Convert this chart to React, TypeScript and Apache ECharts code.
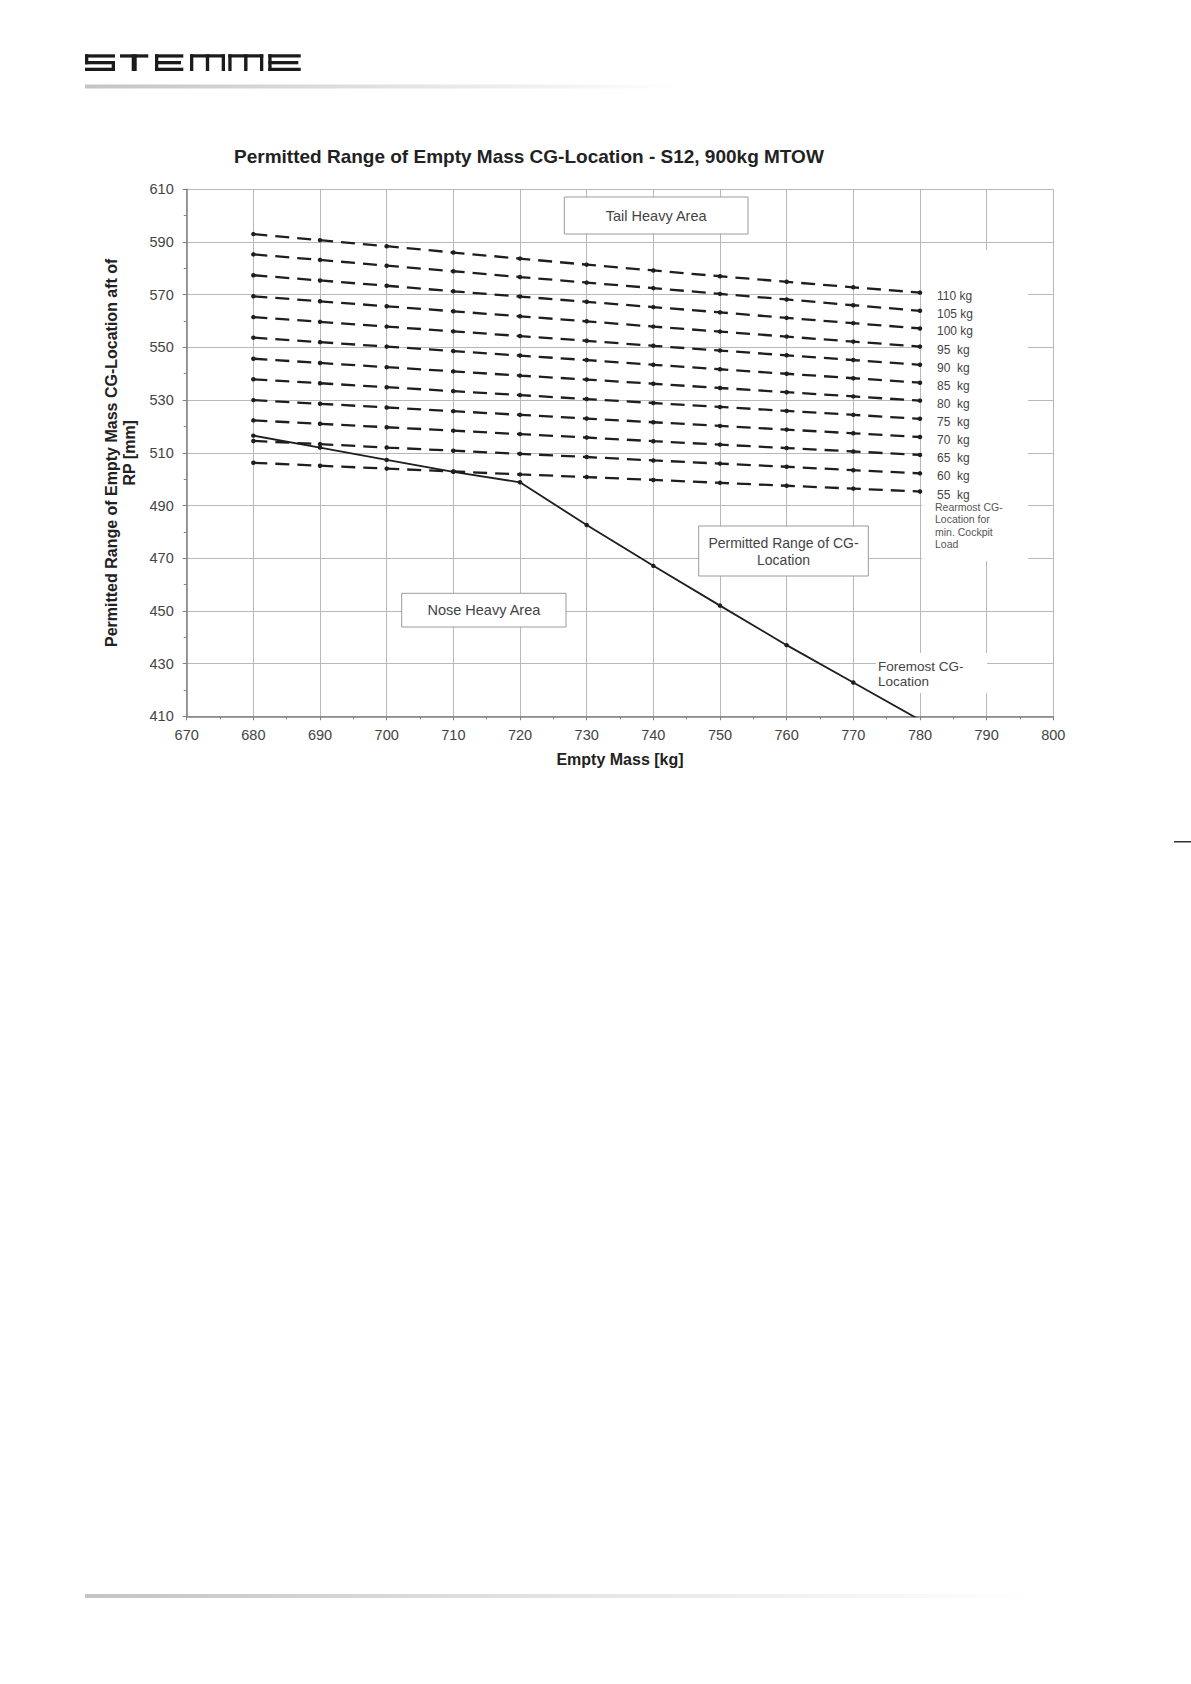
import React, { useEffect, useRef } from "react";
import * as echarts from "echarts";

// ---------- data ----------
const massTicks = [680, 690, 700, 710, 720, 730, 740, 750, 760, 770, 780];

const cockpitLoadLabels = [
  "110 kg", "105 kg", "100 kg", "95  kg", "90  kg", "85  kg",
  "80  kg", "75  kg", "70  kg", "65  kg", "60  kg", "55  kg",
];

const rear110 = [593.0, 590.7, 588.4, 586.0, 583.7, 581.4, 579.2, 577.0, 574.9, 572.8, 570.8];
const rear105 = [585.3, 583.2, 581.0, 578.9, 576.7, 574.6, 572.5, 570.3, 568.2, 566.0, 563.9];
const rear100 = [577.4, 575.4, 573.4, 571.3, 569.3, 567.3, 565.3, 563.3, 561.2, 559.2, 557.2];
const rear95 = [569.4, 567.5, 565.6, 563.7, 561.8, 559.9, 557.9, 556.0, 554.1, 552.2, 550.3];
const rear90 = [561.5, 559.7, 557.9, 556.1, 554.3, 552.5, 550.6, 548.8, 547.0, 545.2, 543.4];
const rear85 = [553.7, 552.0, 550.3, 548.6, 546.9, 545.2, 543.4, 541.7, 540.0, 538.3, 536.6];
const rear80 = [545.7, 544.1, 542.5, 540.9, 539.3, 537.8, 536.2, 534.6, 533.0, 531.4, 529.8];
const rear75 = [537.9, 536.4, 534.9, 533.4, 531.9, 530.4, 528.9, 527.4, 525.9, 524.4, 522.9];
const rear70 = [530.0, 528.6, 527.2, 525.8, 524.4, 523.0, 521.6, 520.2, 518.8, 517.4, 516.0];
const rear65 = [522.3, 521.0, 519.7, 518.4, 517.1, 515.8, 514.4, 513.1, 511.8, 510.5, 509.2];
const rear60 = [514.5, 513.3, 512.0, 510.8, 509.6, 508.4, 507.1, 505.9, 504.7, 503.4, 502.2];
const rear55 = [506.2, 505.1, 504.0, 502.9, 501.8, 500.8, 499.7, 498.6, 497.5, 496.4, 495.3];

const rearmostSeries = [
  rear110, rear105, rear100, rear95, rear90, rear85,
  rear80, rear75, rear70, rear65, rear60, rear55,
];

const foremostCG = [516.5, 512.0, 507.3, 502.8, 498.8, 482.6, 467.1, 452.0, 437.0, 422.8, 408.6];

const xMin = 670, xMax = 800, xStep = 10;
const yMin = 410, yMax = 610, yStep = 20;

const TITLE = "Permitted Range of Empty Mass CG-Location - S12, 900kg MTOW";
const Y_NAME = "Permitted Range of Empty Mass CG-Location aft of\nRP [mm]";
const X_NAME = "Empty Mass [kg]";

// ---------- styling ----------
const FONT = "'Liberation Sans', Arial, Helvetica, sans-serif";
const INK = "#1e1e1e";
const TXT = "#444";

// logo bars [x, y, w, h]
const T0 = 54.3, BH = 3.3, MID = 61, BOT = 67.7, FULLH = 16.7;
const logoBars: number[][] = [
  // S
  [85, T0, 30, BH], [85, MID, 30, BH], [85, BOT, 30, BH], [85, T0, 3.3, 10], [111.7, MID, 3.3, 10],
  // T
  [120, T0, 28.3, BH], [131.7, T0, 5, FULLH],
  // E
  [155, T0, 28.3, BH], [155, MID, 26, BH], [155, BOT, 28.3, BH], [155, T0, 3.3, FULLH],
  // M
  [190, T0, 35, BH], [190, T0, 3.3, FULLH], [205.8, T0, 3.4, FULLH], [221.7, T0, 3.3, FULLH],
  // M
  [228.3, T0, 35, BH], [228.3, T0, 3.3, FULLH], [244.1, T0, 3.4, FULLH], [260, T0, 3.3, FULLH],
  // E
  [268.3, T0, 32.4, BH], [268.3, MID, 30, BH], [268.3, BOT, 32.4, BH], [268.3, T0, 3.3, FULLH],
];

function boxedText(x: number, y: number, w: number, h: number, text: string, fontSize: number, lh: number) {
  return [
    {
      type: "rect", z: 3, silent: true,
      shape: { x, y, width: w, height: h },
      style: { fill: "#ffffff", stroke: "#9a9a9a", lineWidth: 1 },
    },
    {
      type: "text", z: 4, silent: true,
      x: x + w / 2, y: y + h / 2,
      style: {
        text, fill: TXT, fontSize, fontFamily: FONT, lineHeight: lh,
        align: "center", verticalAlign: "middle",
      },
    },
  ];
}

export default function App() {
  const ref = useRef<HTMLDivElement | null>(null);

  useEffect(() => {
    if (!ref.current) return;
    const chart = echarts.init(ref.current, undefined, { renderer: "svg" });

    const rearSeries = rearmostSeries.map((vals, k) => ({
      name: cockpitLoadLabels[k],
      type: "line",
      data: massTicks.map((m, i) => [m, vals[i]]),
      symbol: "circle",
      symbolSize: 4.5,
      itemStyle: { color: INK },
      lineStyle: { color: INK, width: 2.3, type: [14, 8] },
      endLabel: {
        show: true,
        formatter: cockpitLoadLabels[k],
        distance: 17,
        offset: [0, 3],
        color: TXT,
        fontSize: 12,
        fontFamily: FONT,
      },
      z: 2,
    }));

    const foreSeries = {
      name: "Foremost CG-Location",
      type: "line",
      clip: true,
      data: massTicks.map((m, i) =>
        i === massTicks.length - 1
          ? { value: [m, foremostCG[i]], symbol: "none" }
          : [m, foremostCG[i]]
      ),
      symbol: "circle",
      symbolSize: 4.5,
      itemStyle: { color: INK },
      lineStyle: { color: INK, width: 1.8, type: "solid" },
      z: 2,
    };

    const graphic: any[] = [
      ...logoBars.map(([x, y, w, h]) => ({
        type: "rect", silent: true,
        shape: { x, y, width: w, height: h },
        style: { fill: "#1b1b1b" },
      })),
      {
        type: "rect", silent: true,
        shape: { x: 85, y: 84.5, width: 600, height: 4 },
        style: {
          fill: new echarts.graphic.LinearGradient(0, 0, 1, 0, [
            { offset: 0, color: "#c4c4c4" },
            { offset: 1, color: "#ffffff" },
          ]),
        },
      },
      {
        type: "rect", silent: true,
        shape: { x: 85, y: 1594, width: 950, height: 4 },
        style: {
          fill: new echarts.graphic.LinearGradient(0, 0, 1, 0, [
            { offset: 0, color: "#c4c4c4" },
            { offset: 0.5, color: "#e4e4e4" },
            { offset: 1, color: "#ffffff" },
          ]),
        },
      },
      {
        type: "rect", silent: true,
        shape: { x: 1174, y: 841, width: 17, height: 1.5 },
        style: { fill: "#333" },
      },
      // white patch behind cockpit load labels
      {
        type: "rect", z: 1, silent: true,
        shape: { x: 922, y: 250, width: 106, height: 311 },
        style: { fill: "#ffffff" },
      },
      // white patch behind foremost label
      {
        type: "rect", z: 1, silent: true,
        shape: { x: 876, y: 653, width: 111, height: 40 },
        style: { fill: "#ffffff" },
      },
      {
        type: "text", z: 4, silent: true,
        x: 935, y: 501,
        style: {
          text: "Rearmost CG-\nLocation for\nmin. Cockpit\nLoad",
          fill: "#555", fontSize: 10.5, fontFamily: FONT, lineHeight: 12.3,
          align: "left", verticalAlign: "top",
        },
      },
      {
        type: "text", z: 4, silent: true,
        x: 878, y: 674,
        style: {
          text: "Foremost CG-\nLocation",
          fill: TXT, fontSize: 13.5, fontFamily: FONT, lineHeight: 15.7,
          align: "left", verticalAlign: "middle",
        },
      },
      ...boxedText(564.3, 197, 183.7, 37, "Tail Heavy Area", 14.5, 17),
      ...boxedText(401.7, 593.3, 164.3, 33.7, "Nose Heavy Area", 14.5, 17),
      ...boxedText(698.7, 526, 169.6, 50, "Permitted Range of CG-\nLocation", 14, 17),
    ];

    const axisLineStyle = { color: "#808080", width: 1.5 };

    const option: any = {
      animation: false,
      backgroundColor: "#ffffff",
      textStyle: { fontFamily: FONT },
      title: {
        text: TITLE,
        left: 234,
        top: 147,
        padding: 0,
        textStyle: { fontSize: 19, fontWeight: "bold", color: "#222", fontFamily: FONT },
      },
      grid: { left: 186.7, right: 137.7, top: 189.3, bottom: 967.7, containLabel: false },
      xAxis: {
        type: "value",
        min: xMin, max: xMax, interval: xStep,
        name: X_NAME,
        nameLocation: "middle",
        nameGap: 35,
        nameTextStyle: { fontSize: 16, fontWeight: "bold", color: "#222", fontFamily: FONT },
        axisLine: { show: true, lineStyle: axisLineStyle },
        axisTick: { show: true, length: 4, lineStyle: { color: "#808080" } },
        minorTick: { show: true, splitNumber: 2, length: 3, lineStyle: { color: "#808080" } },
        axisLabel: { color: TXT, fontSize: 14.5, margin: 11, fontFamily: FONT },
        splitLine: { show: true, lineStyle: { color: "#b8b8b8", width: 1 } },
      },
      yAxis: {
        type: "value",
        min: yMin, max: yMax, interval: yStep,
        name: Y_NAME,
        nameLocation: "middle",
        nameGap: 47,
        nameRotate: 90,
        nameTextStyle: { fontSize: 16, fontWeight: "bold", color: "#222", lineHeight: 18, fontFamily: FONT },
        axisLine: { show: true, lineStyle: axisLineStyle },
        axisTick: { show: true, length: 4, lineStyle: { color: "#808080" } },
        minorTick: { show: true, splitNumber: 2, length: 3, lineStyle: { color: "#808080" } },
        axisLabel: { color: TXT, fontSize: 14.5, margin: 13, fontFamily: FONT },
        splitLine: { show: true, lineStyle: { color: "#b8b8b8", width: 1 } },
      },
      series: [...rearSeries, foreSeries],
      graphic,
    };

    chart.setOption(option);
    return () => chart.dispose();
  }, []);

  return (
    <div
      ref={ref}
      style={{ position: "absolute", left: 0, top: 0, width: 1191, height: 1684, background: "#fff" }}
    />
  );
}
